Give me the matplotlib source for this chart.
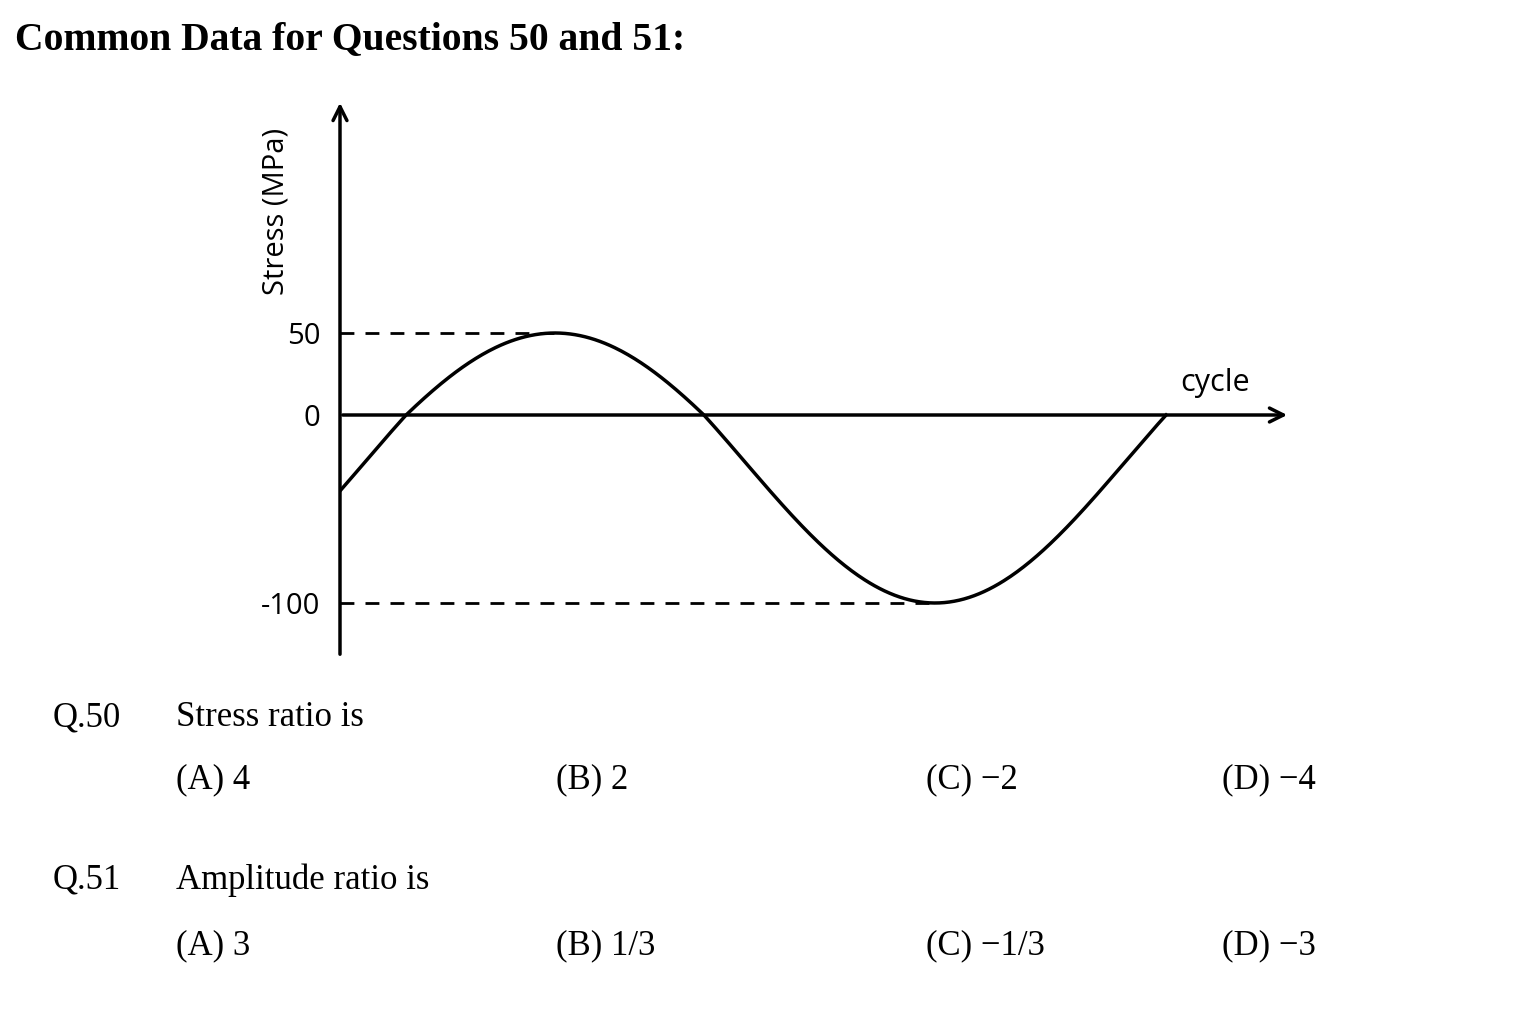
import numpy as np
import matplotlib
matplotlib.use("Agg")
import matplotlib.pyplot as plt

max_stress = 50
min_stress = -100
ytick_vals = [50, 0, -100]
ytick_labels = ["50", "0", "-100"]
q_labels = ["Q.50", "Q.51"]
q_texts = ["Stress ratio is", "Amplitude ratio is"]
q_options = [["(A) 4", "(B) 2", "(C) \u22122", "(D) \u22124"],
             ["(A) 3", "(B) 1/3", "(C) \u22121/3", "(D) \u22123"]]

W, H = 1536, 1024
fig = plt.figure(figsize=(W/100, H/100), dpi=100)
ax = fig.add_axes([340/W, 1-657/H, (1290-340)/W, (657-100)/H])

def fwd(v):
    v = np.asarray(v, float)
    return np.where(v >= 0, v*1.64, v*1.88)
def inv(d):
    d = np.asarray(d, float)
    return np.where(d >= 0, d/1.64, d/1.88)
ax.set_yscale('function', functions=(fwd, inv))

mean = (max_stress + min_stress)/2
amp = (max_stress - min_stress)/2
t_peak = 215/760
t_trough = t_peak + 0.5
t_end = t_peak + (2*np.pi + np.arcsin(-mean/amp) - np.pi/2)/(2*np.pi)
t = np.linspace(0, t_end, 500)
y = mean + amp*np.sin(np.pi/2 + 2*np.pi*(t - t_peak))
ax.plot(t, y, color='black', lw=2.5)
ax.set_xlim(0, 950/760)
ax.set_ylim(-(657-415)/1.88, (415-100)/1.64)
ax.plot([0, t_peak], [max_stress]*2, ls=(0, (5, 4)), color='black', lw=2)
ax.plot([0, t_trough], [min_stress]*2, ls=(0, (5, 4)), color='black', lw=2)
for s in ax.spines.values():
    s.set_visible(False)
ax.annotate('', xy=(950/760, 0), xytext=(0, 0),
            arrowprops=dict(arrowstyle='->', lw=2.5, color='black', mutation_scale=25))
ax.annotate('', xy=(0, 1), xytext=(0, 0), xycoords='axes fraction',
            arrowprops=dict(arrowstyle='->', lw=2.5, color='black', mutation_scale=25))
ax.set_xticks([])
ax.set_yticks(ytick_vals)
ax.set_yticklabels(ytick_labels, fontsize=21, family='Open Sans')
ax.tick_params(axis='y', length=0, pad=14)
ax.set_ylabel("Stress (MPa)", fontsize=21, family='Open Sans')
ax.yaxis.set_label_coords(-0.052, 0.80)
ax.text(0.885, 0.492, "cycle", transform=ax.transAxes,
        fontsize=22, family='Open Sans', va='center')

serif = 'Liberation Serif'
fig.text(15/W, 1-40/H, "Common Data for Questions 50 and 51:", fontsize=28.5,
         fontweight='bold', family=serif, va='center')
rows = [(718, 780), (880, 946)]
xs = [176, 556, 926, 1222]
for i in range(2):
    qy, oy = rows[i]
    fig.text(53/W, 1-qy/H, q_labels[i], fontsize=25, family=serif, va='center')
    fig.text(176/W, 1-qy/H, q_texts[i], fontsize=25, family=serif, va='center')
    for x, o in zip(xs, q_options[i]):
        fig.text(x/W, 1-oy/H, o, fontsize=25, family=serif, va='center')

fig.savefig("out.png", dpi=100, facecolor='white')
